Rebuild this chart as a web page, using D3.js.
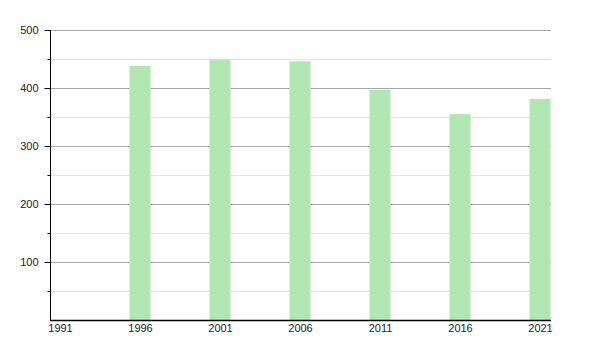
<!DOCTYPE html>
<html>
<head>
<meta charset="utf-8">
<script src="https://cdn.jsdelivr.net/npm/d3@7"></script>
<style>
  body { margin: 0; background: #fff; }
  text { font-family: "Liberation Sans", Arial, sans-serif; font-size: 11px; fill: #222; }
</style>
</head>
<body>
<div id="chart"></div>
<script>
var years = [1991, 1996, 2001, 2006, 2011, 2016, 2021];
var values = [null, 438, 449, 446, 397, 355, 381];
var yTicks = [100, 200, 300, 400, 500];
var yMinor = [50, 150, 250, 350, 450];

var width = 600, height = 350;
var plotLeft = 50, plotRight = 551, plotTop = 30, plotBottom = 320;

var svg = d3.select("#chart").append("svg")
    .attr("width", width)
    .attr("height", height);

var x = d3.scaleLinear()
    .domain([1991, 2021])
    .range([60, 540]);

var y = d3.scaleLinear()
    .domain([0, 500])
    .range([plotBottom, plotTop]);

// minor grid
svg.append("g")
    .selectAll("line")
    .data(yMinor)
    .enter().append("line")
    .attr("x1", plotLeft).attr("x2", plotRight)
    .attr("y1", d => y(d) + 0.5).attr("y2", d => y(d) + 0.5)
    .attr("stroke", "#e4e4e4");

// major grid
svg.append("g")
    .selectAll("line")
    .data(yTicks)
    .enter().append("line")
    .attr("x1", plotLeft).attr("x2", plotRight)
    .attr("y1", d => y(d) + 0.5).attr("y2", d => y(d) + 0.5)
    .attr("stroke", "#a8a8a8");

// bars
var barW = 21;
svg.append("g")
    .selectAll("rect")
    .data(years.map((yr, i) => ({year: yr, value: values[i]})).filter(d => d.value != null))
    .enter().append("rect")
    .attr("x", d => x(d.year) - barW / 2)
    .attr("y", d => y(d.value))
    .attr("width", barW)
    .attr("height", d => y(0) - y(d.value))
    .attr("fill", "#b0e6b0");

// y axis
var yAxis = svg.append("g")
    .attr("transform", "translate(" + (plotLeft + 0.5) + ",0)")
    .call(d3.axisLeft(y).tickValues(yTicks).tickSize(6).tickPadding(6));
yAxis.select(".domain").attr("d", "M0," + plotTop + "V" + plotBottom).attr("stroke", "#000");
yAxis.selectAll(".tick line").attr("stroke", "#000");
yAxis.selectAll(".tick text").style("font-size", "11px").attr("fill", "#222");

svg.append("g")
    .attr("transform", "translate(" + (plotLeft + 0.5) + ",0)")
    .selectAll("line")
    .data(yMinor)
    .enter().append("line")
    .attr("x1", -3).attr("x2", 0)
    .attr("y1", d => y(d) + 0.5).attr("y2", d => y(d) + 0.5)
    .attr("stroke", "#000");

// x axis
var xAxis = svg.append("g")
    .attr("transform", "translate(0," + (plotBottom + 0.5) + ")")
    .call(d3.axisBottom(x).tickValues(years).tickFormat(d3.format("d")).tickSize(0).tickPadding(4));
xAxis.select(".domain").attr("d", "M" + plotLeft + ",0H" + plotRight).attr("stroke", "#000").attr("stroke-width", 1.5);
xAxis.selectAll(".tick text").style("font-size", "11px").attr("fill", "#222");
</script>
</body>
</html>
